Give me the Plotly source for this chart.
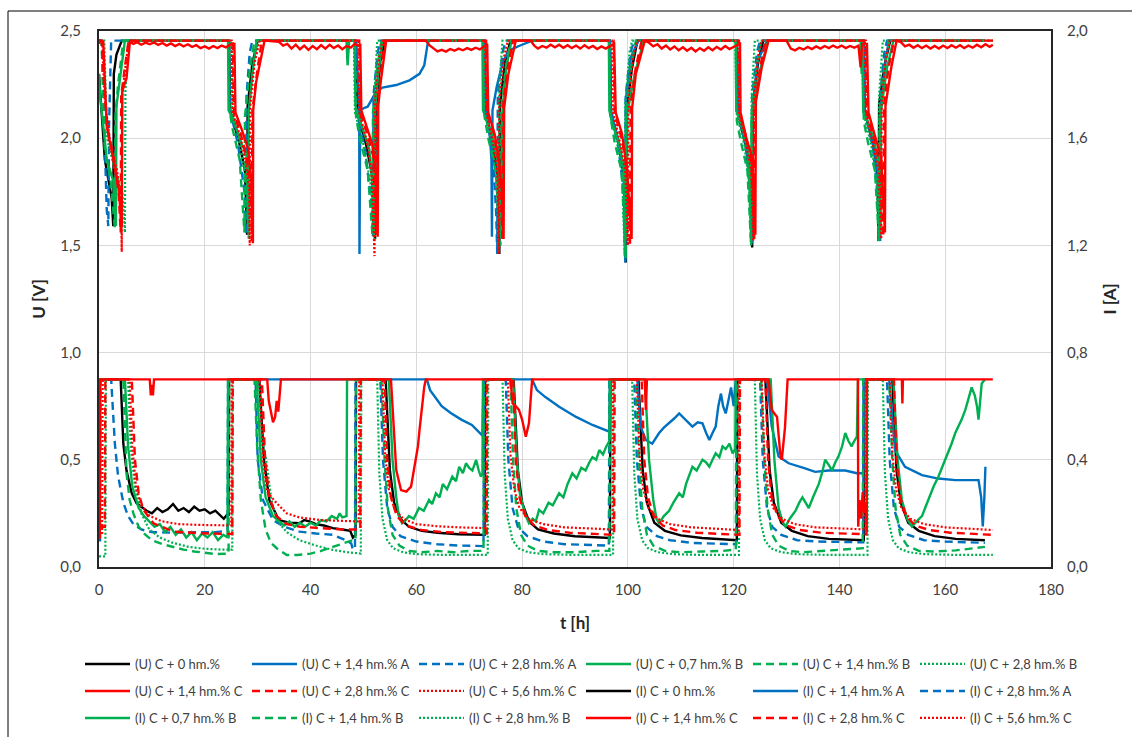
import plotly.graph_objects as go

# ---------------- data: (t [h], value) pairs ----------------
# Voltage series (left axis, V)
U_C0 = [(0.0,2.30),(1.1,1.90),(2.4,1.72),(2.7,1.59),(2.8,2.30),(3.3,2.39),(4.3,2.455),(24.6,2.455),
        (24.8,2.13),(26.5,1.98),(27.6,1.85),(28.0,1.55),(28.1,2.15),(29.0,2.35),(30.0,2.455),(48.6,2.455),
        (48.8,2.12),(50.5,1.97),(51.7,1.82),(52.2,1.53),(52.3,2.12),(53.2,2.36),(54.0,2.455),(72.9,2.455),
        (73.1,2.12),(74.5,1.98),(75.4,1.80),(75.7,1.46),(75.8,2.15),(76.8,2.36),(77.8,2.455),(96.6,2.455),
        (96.8,2.12),(98.3,1.97),(99.3,1.80),(99.6,1.42),(99.7,2.12),(100.8,2.33),(101.8,2.455),(120.6,2.455),
        (120.8,2.12),(122.3,1.96),(123.2,1.80),(123.5,1.49),(123.6,2.15),(124.6,2.35),(125.6,2.455),(144.6,2.455),
        (144.8,2.12),(146.4,1.97),(147.2,1.82),(147.4,1.52),(147.5,2.16),(148.6,2.35),(149.6,2.455),(167.5,2.455)]
U_C14A = [(48.6,2.455),(48.9,2.30),(49.2,2.15),(49.25,1.46),(49.4,2.13),(50.2,2.142),(50.8,2.147),(51.8,2.19),
          (52.4,2.217),(53.6,2.236),(56.2,2.248),(58.7,2.27),(60.6,2.30),(61.5,2.34),(62.1,2.435),(62.4,2.455),(72.9,2.455),
          (73.2,2.13),(73.8,2.05),(74.2,1.90),(74.3,1.54),(74.4,2.13),(75.2,2.24),(76.4,2.36),(77.6,2.41),(79.4,2.43),(81.9,2.455),(96.6,2.455),
          (96.8,2.13),(98.3,1.98),(99.2,1.85),(99.5,1.42),(99.6,2.18),(100.6,2.38),(102.0,2.455),(120.6,2.455),
          (120.8,2.13),(122.2,1.98),(123.2,1.82),(123.5,1.51),(123.6,2.14),(124.5,2.36),(126.3,2.455),(144.6,2.455),
          (144.8,2.13),(146.3,1.97),(147.3,1.83),(147.7,1.52),(147.8,2.13),(148.8,2.38),(149.4,2.455),(167.5,2.455)]
U_C28A = [(0.0,2.455),(0.5,2.455),(1.1,1.98),(1.45,1.67),(1.76,1.59),(1.9,2.06),(2.3,2.455),(24.6,2.455),
          (24.8,2.13),(26.3,1.97),(27.5,1.75),(27.8,1.55),(27.9,2.20),(28.5,2.40),(29.0,2.455),(48.5,2.455),
          (48.7,2.12),(50.3,1.95),(51.5,1.70),(51.8,1.54),(51.9,2.20),(52.7,2.40),(53.2,2.455),(72.8,2.455),
          (73.0,2.12),(74.4,1.95),(75.1,1.65),(75.3,1.46),(75.4,2.20),(76.3,2.40),(76.9,2.455),(96.5,2.455),
          (96.7,2.12),(98.2,1.96),(99.2,1.75),(99.5,1.43),(99.6,2.20),(100.5,2.40),(101.2,2.455),(120.6,2.455),
          (120.8,2.12),(122.3,1.96),(123.1,1.75),(123.4,1.52),(123.5,2.20),(124.4,2.40),(125.0,2.455),(144.6,2.455),
          (144.8,2.12),(146.3,1.96),(147.2,1.75),(147.6,1.53),(147.7,2.20),(148.5,2.40),(149.0,2.455),(167.5,2.455)]
U_C07B = [(0.0,2.30),(0.2,2.20),(0.8,2.06),(1.45,1.90),(2.7,1.80),(3.2,1.59),(3.3,2.15),(3.65,2.22),(4.4,2.35),(4.9,2.455),(24.4,2.455),
          (24.5,2.13),(25.5,2.08),(27.0,1.97),(27.9,1.93),(28.2,1.56),(28.3,2.12),(29.0,2.30),(29.8,2.455),
          (46.8,2.455),(47.0,2.34),(47.3,2.455),(48.3,2.455),
          (48.5,2.15),(49.5,2.07),(51.1,1.95),(51.7,1.78),(52.0,1.54),(52.1,2.10),(52.8,2.30),(53.6,2.455),(72.5,2.455),
          (72.6,2.13),(73.1,2.10),(74.3,2.02),(75.5,1.87),(76.1,1.53),(76.2,2.10),(77.0,2.33),(78.0,2.455),(96.4,2.455),
          (96.5,2.13),(97.0,2.07),(98.2,1.99),(99.2,1.87),(99.8,1.54),(99.9,2.12),(101.3,2.30),(103.0,2.455),(120.4,2.455),
          (120.5,2.13),(121.7,2.05),(122.8,1.93),(123.3,1.53),(123.4,2.10),(124.8,2.30),(126.5,2.455),
          (144.0,2.455),(144.2,2.30),(144.3,2.455),
          (144.5,2.13),(145.3,2.08),(146.6,1.99),(147.4,1.87),(147.7,1.55),(147.8,2.12),(149.0,2.33),(150.2,2.455),(167.5,2.455)]
U_C14B = [(0.0,2.455),(0.5,2.455),(1.1,1.95),(2.2,1.80),(3.0,1.58),(3.1,2.10),(3.6,2.25),(4.6,2.455),(24.5,2.455),
          (24.7,2.13),(25.2,2.05),(26.6,1.90),(27.5,1.56),(27.6,2.10),(28.5,2.32),(29.4,2.455),(48.4,2.455),
          (48.6,2.10),(49.3,2.00),(50.8,1.85),(51.7,1.55),(51.8,2.12),(52.6,2.33),(53.4,2.455),(72.7,2.455),
          (72.9,2.10),(73.6,2.00),(75.0,1.85),(75.9,1.50),(76.0,2.12),(76.9,2.33),(77.8,2.455),(96.5,2.455),
          (96.7,2.10),(97.5,1.98),(98.8,1.85),(99.6,1.44),(99.7,2.12),(100.6,2.33),(101.5,2.455),(120.4,2.455),
          (120.6,2.08),(121.4,1.98),(122.6,1.85),(123.3,1.50),(123.4,2.12),(124.3,2.33),(125.2,2.455),(144.4,2.455),
          (144.6,2.08),(145.4,1.98),(146.7,1.85),(147.5,1.52),(147.6,2.12),(148.5,2.33),(149.4,2.455),(167.5,2.455)]
U_C28B = [(0.0,2.455),(1.0,2.455),(1.5,2.00),(3.0,1.85),(4.4,1.75),(4.9,1.56),(5.0,2.22),(5.5,2.455),(25.0,2.455),
          (25.2,2.13),(26.6,1.97),(27.8,1.80),(28.3,1.53),(28.4,2.15),(29.3,2.35),(30.2,2.455),(48.2,2.455),
          (48.4,2.12),(50.0,1.97),(51.4,1.78),(52.1,1.52),(52.2,2.25),(52.6,2.455),(72.6,2.455),
          (72.8,2.12),(74.3,1.98),(75.2,1.80),(75.6,1.47),(75.7,2.25),(76.3,2.455),(96.4,2.455),
          (96.6,2.12),(97.8,2.00),(98.9,1.85),(99.4,1.45),(99.5,2.15),(100.3,2.40),(100.8,2.455),(120.3,2.455),
          (120.5,2.12),(122.0,1.97),(122.9,1.80),(123.3,1.50),(123.4,2.20),(124.0,2.455),(144.3,2.455),
          (144.5,2.12),(146.0,1.97),(147.0,1.80),(147.4,1.52),(147.5,2.20),(148.2,2.455),(169.0,2.455)]
U_C14C = [(0.0,2.44),(0.2,2.455),(0.8,2.45),(1.1,2.30),(1.45,2.06),(2.7,1.90),(3.65,1.78),(4.3,1.59),(4.4,2.22),(5.2,2.28),(5.85,2.45),
          (6.5,2.44),(7.2,2.448),(8.0,2.436),(8.8,2.446),(9.6,2.438),(10.4,2.447),(11.2,2.435),(12.0,2.444),(12.8,2.432),
          (13.6,2.442),(14.4,2.430),(15.2,2.440),(16.0,2.428),(16.8,2.438),(17.6,2.426),(18.4,2.434),(19.2,2.420),(20.0,2.428),
          (20.8,2.418),(21.6,2.430),(22.4,2.420),(23.2,2.432),(24.0,2.424),(24.8,2.436),(25.6,2.44),
          (25.8,2.12),(27.0,2.04),(28.2,1.95),(28.8,1.80),(29.1,1.51),(29.15,2.13),(29.7,2.26),(31.3,2.455),
          (33.0,2.452),(34.0,2.450),(34.8,2.432),(35.6,2.440),(36.4,2.418),(37.2,2.436),(38.0,2.415),(38.8,2.432),(39.6,2.412),
          (40.4,2.430),(41.2,2.415),(42.0,2.434),(42.8,2.418),(43.6,2.436),(44.4,2.420),(45.2,2.432),(46.0,2.415),(46.8,2.430),
          (47.6,2.422),(48.4,2.440),(49.0,2.430),(49.4,2.44),
          (49.6,2.13),(50.5,2.06),(51.7,1.97),(52.4,1.84),(52.7,1.54),(52.8,2.15),(53.2,2.25),(54.3,2.455),(61.8,2.455),
          (62.4,2.435),(63.2,2.420),(64.0,2.405),(64.8,2.412),(65.6,2.404),(66.4,2.416),(67.2,2.408),(68.0,2.418),(68.8,2.410),
          (69.6,2.420),(70.4,2.412),(71.2,2.422),(72.0,2.414),(72.8,2.428),(73.4,2.44),
          (73.6,2.12),(74.8,2.02),(75.6,1.90),(76.2,1.75),(76.5,1.53),(76.6,2.14),(77.4,2.30),(78.8,2.455),(81.6,2.455),
          (82.3,2.432),(83.0,2.418),(83.8,2.430),(84.6,2.422),(85.4,2.436),(86.2,2.424),(87.0,2.436),(87.8,2.422),(88.6,2.434),
          (89.4,2.420),(90.2,2.432),(91.0,2.418),(91.8,2.434),(92.6,2.420),(93.4,2.430),(94.2,2.416),(95.0,2.428),(95.8,2.418),
          (96.6,2.430),(97.4,2.44),
          (97.7,2.12),(98.9,2.02),(99.8,1.86),(100.7,1.53),(100.8,2.14),(101.5,2.30),(103.2,2.455),
          (104.0,2.445),(104.8,2.428),(105.6,2.438),(106.4,2.418),(107.2,2.432),(108.0,2.414),(108.8,2.428),(109.6,2.410),
          (110.4,2.424),(111.2,2.408),(112.0,2.422),(112.8,2.405),(113.6,2.420),(114.4,2.408),(115.2,2.424),(116.0,2.410),
          (116.8,2.426),(117.6,2.414),(118.4,2.430),(119.2,2.416),(120.0,2.428),(120.8,2.436),(121.2,2.44),
          (121.3,2.12),(122.4,2.00),(123.5,1.91),(124.1,1.55),(124.2,2.17),(125.3,2.33),(126.6,2.455),(130.0,2.455),
          (130.8,2.418),(131.6,2.410),(132.4,2.422),(133.2,2.414),(134.0,2.426),(134.8,2.416),(135.6,2.428),(136.4,2.418),
          (137.2,2.430),(138.0,2.420),(138.8,2.432),(139.6,2.422),(140.4,2.432),(141.2,2.420),(142.0,2.430),(142.8,2.422),
          (143.6,2.432),(144.0,2.33),(144.3,2.44),(145.2,2.44),
          (145.5,2.12),(146.6,2.02),(147.9,1.91),(148.6,1.56),(148.7,2.15),(149.8,2.33),(150.8,2.455),
          (151.6,2.448),(152.4,2.428),(153.2,2.436),(154.0,2.422),(154.8,2.434),(155.6,2.420),(156.4,2.432),(157.2,2.418),
          (158.0,2.430),(158.8,2.418),(159.6,2.432),(160.4,2.420),(161.2,2.434),(162.0,2.422),(162.8,2.434),(163.6,2.420),
          (164.4,2.432),(165.2,2.422),(166.0,2.436),(166.8,2.424),(167.6,2.438),(168.4,2.426),(169.0,2.436)]
U_C28C = [(0.0,2.455),(0.5,2.455),(1.0,2.25),(1.6,2.05),(2.8,1.90),(3.7,1.75),(4.1,1.56),(4.2,2.20),(5.0,2.35),(5.6,2.455),(25.3,2.455),
          (25.5,2.12),(26.8,2.02),(28.0,1.90),(28.7,1.75),(28.9,1.52),(29.0,2.13),(30.0,2.33),(30.8,2.455),(49.2,2.455),
          (49.4,2.12),(50.6,2.03),(51.8,1.92),(52.5,1.55),(52.6,2.14),(53.4,2.33),(54.0,2.455),(73.2,2.455),
          (73.4,2.12),(74.7,2.02),(75.8,1.85),(76.3,1.52),(76.4,2.15),(77.3,2.33),(78.3,2.455),(97.3,2.455),
          (97.5,2.12),(98.8,2.00),(99.9,1.85),(100.4,1.50),(100.5,2.15),(101.5,2.33),(102.6,2.455),(121.0,2.455),
          (121.2,2.12),(122.4,2.00),(123.4,1.88),(123.9,1.53),(124.0,2.15),(125.0,2.33),(126.0,2.455),(145.0,2.455),
          (145.2,2.12),(146.5,2.00),(147.6,1.88),(148.3,1.54),(148.4,2.15),(149.3,2.33),(150.3,2.455),(169.0,2.455)]
U_C56C = [(0.0,2.455),(0.6,2.455),(1.0,2.20),(2.0,2.00),(3.4,1.85),(4.2,1.70),(4.3,1.47),(4.4,2.20),(5.2,2.38),(5.8,2.455),(25.1,2.455),
          (25.3,2.12),(26.8,2.00),(27.8,1.88),(28.4,1.75),(28.5,1.50),(28.6,2.15),(29.4,2.35),(30.4,2.455),(49.0,2.455),
          (49.2,2.12),(50.5,2.00),(51.5,1.85),(52.1,1.45),(52.2,2.18),(53.0,2.38),(53.6,2.455),(73.0,2.455),
          (73.2,2.12),(74.5,1.98),(75.3,1.85),(75.6,1.46),(75.7,2.18),(76.6,2.38),(77.3,2.455),(97.0,2.455),
          (97.2,2.12),(98.5,1.98),(99.5,1.85),(100.0,1.50),(100.1,2.18),(101.0,2.38),(101.7,2.455),(120.8,2.455),
          (121.0,2.12),(122.3,1.98),(123.3,1.85),(123.7,1.52),(123.8,2.18),(124.6,2.38),(125.3,2.455),(144.8,2.455),
          (145.0,2.12),(146.3,1.98),(147.4,1.85),(147.9,1.53),(148.0,2.18),(148.8,2.38),(149.5,2.455),(169.0,2.455)]

# Current series (right axis, A)
I_C0 = [(0.0,0.70),(4.1,0.70),(4.6,0.46),(5.2,0.36),(6.2,0.275),(7.1,0.238),(8.0,0.225),(9.0,0.21),(10.0,0.20),(11.0,0.22),
        (12.0,0.205),(13.0,0.215),(14.0,0.235),(15.0,0.21),(16.0,0.22),(17.0,0.205),(18.0,0.225),(19.0,0.21),(20.0,0.215),
        (21.0,0.20),(22.0,0.21),(23.0,0.19),(23.6,0.18),(24.2,0.195),(24.5,0.19),(24.6,0.70),
        (30.3,0.70),(31.2,0.40),(32.2,0.25),(34.0,0.175),(36.0,0.165),(37.9,0.163),(38.8,0.175),(39.8,0.17),(41.0,0.16),
        (42.5,0.155),(44.2,0.145),(46.0,0.14),(47.5,0.135),(48.0,0.11),(48.5,0.12),(48.6,0.70),
        (54.2,0.70),(55.0,0.36),(55.8,0.24),(57.0,0.18),(58.6,0.15),(61.0,0.135),(64.0,0.128),(68.0,0.122),(72.9,0.12),(73.0,0.70),
        (78.4,0.70),(79.2,0.36),(80.0,0.24),(81.3,0.17),(83.0,0.14),(86.0,0.125),(90.0,0.115),(96.6,0.108),(96.7,0.70),
        (102.0,0.70),(102.8,0.36),(103.6,0.24),(105.0,0.165),(107.0,0.135),(110.0,0.118),(114.0,0.108),(120.6,0.10),(120.7,0.70),
        (126.0,0.70),(126.8,0.36),(127.6,0.24),(129.0,0.165),(131.0,0.135),(134.0,0.115),(138.0,0.105),(144.6,0.10),(144.7,0.70),
        (150.0,0.70),(150.8,0.36),(151.6,0.24),(153.0,0.165),(155.0,0.135),(158.0,0.115),(162.0,0.105),(167.5,0.10)]
I_C14A = [(29.5,0.70),(62.0,0.70),(62.6,0.66),(63.5,0.634),(64.8,0.60),(66.5,0.575),(68.5,0.55),(70.5,0.53),(72.5,0.49),(72.7,0.70),
          (81.9,0.70),(82.8,0.66),(84.4,0.634),(87.0,0.598),(90.2,0.56),(93.3,0.53),(95.9,0.51),(96.5,0.505),(96.6,0.70),
          (101.8,0.70),(102.4,0.524),(103.4,0.474),(104.6,0.46),(105.9,0.50),(106.8,0.52),(107.8,0.536),(108.8,0.555),(109.7,0.573),
          (110.4,0.56),(111.0,0.548),(112.2,0.524),(113.2,0.54),(114.1,0.536),(114.8,0.50),(115.4,0.474),(116.0,0.50),(116.6,0.524),
          (117.1,0.60),(117.6,0.647),(118.0,0.60),(118.5,0.573),(119.0,0.62),(119.5,0.67),(120.0,0.60),(120.4,0.70),
          (126.3,0.70),(127.2,0.524),(128.5,0.412),(130.4,0.387),(133.5,0.368),(135.4,0.355),(137.9,0.36),(141.1,0.36),(143.3,0.35),
          (144.5,0.35),(144.6,0.70),
          (149.4,0.70),(150.5,0.436),(152.4,0.374),(155.6,0.343),(158.7,0.33),(161.9,0.324),(166.3,0.324),(166.8,0.26),(167.1,0.151),
          (167.4,0.26),(167.6,0.374)]
I_C28A = [(0.0,0.10),(0.2,0.10),(0.3,0.70),(2.3,0.70),(3.0,0.46),(3.6,0.34),(4.6,0.24),(5.5,0.19),(6.5,0.16),(8.0,0.14),(10.0,0.13),
          (14.0,0.128),(18.0,0.13),(22.0,0.13),(24.3,0.135),(24.4,0.70),
          (29.6,0.70),(30.0,0.40),(31.0,0.25),(32.9,0.175),(35.0,0.15),(37.9,0.132),(41.0,0.125),(44.2,0.12),(46.7,0.10),(47.7,0.088),
          (48.0,0.065),(48.4,0.07),(48.5,0.70),
          (53.2,0.70),(53.7,0.40),(54.5,0.22),(55.5,0.15),(57.0,0.115),(60.0,0.095),(64.0,0.085),(68.0,0.08),(72.7,0.078),(72.8,0.70),
          (76.9,0.70),(77.4,0.40),(78.2,0.22),(79.2,0.15),(81.0,0.115),(84.0,0.095),(88.0,0.085),(96.4,0.08),(96.5,0.70),
          (101.2,0.70),(101.7,0.40),(102.5,0.22),(103.5,0.15),(105.5,0.115),(108.0,0.10),(112.0,0.09),(120.5,0.085),(120.6,0.70),
          (125.0,0.70),(125.5,0.40),(126.3,0.22),(127.3,0.15),(129.0,0.12),(132.0,0.10),(136.0,0.095),(144.5,0.092),(144.6,0.70),
          (149.0,0.70),(149.5,0.40),(150.3,0.22),(151.3,0.15),(153.0,0.12),(156.0,0.10),(160.0,0.095),(167.5,0.09)]
I_C07B = [(0.0,0.14),(0.15,0.70),(4.9,0.70),(5.5,0.45),(6.3,0.30),(7.5,0.22),(8.5,0.19),(9.6,0.17),(10.5,0.15),(11.5,0.16),
          (12.5,0.13),(13.5,0.15),(14.5,0.12),(15.5,0.14),(16.5,0.11),(17.5,0.13),(18.5,0.10),(19.5,0.125),(20.5,0.11),(21.5,0.13),
          (22.5,0.10),(23.5,0.12),(24.3,0.11),(24.4,0.70),
          (29.8,0.70),(30.6,0.40),(31.5,0.26),(32.9,0.19),(34.0,0.17),(35.0,0.155),(36.0,0.17),(37.0,0.15),(38.0,0.165),(39.0,0.15),
          (40.0,0.165),(41.0,0.155),(42.0,0.175),(43.0,0.17),(44.0,0.19),(45.0,0.18),(45.5,0.20),(46.0,0.185),(46.8,0.19),(46.9,0.70),
          (54.8,0.70),(55.5,0.40),(56.2,0.26),(56.7,0.19),(57.3,0.163),(58.0,0.175),(58.6,0.19),(59.5,0.18),(60.5,0.22),(61.4,0.21),
          (62.4,0.25),(63.0,0.235),(63.7,0.275),(64.4,0.26),(65.0,0.31),(65.8,0.29),(66.8,0.337),(67.5,0.32),(68.1,0.374),(68.8,0.35),
          (69.4,0.387),(70.0,0.37),(70.6,0.36),(71.3,0.40),(71.8,0.36),(72.2,0.337),(72.5,0.35),(72.6,0.70),
          (78.3,0.70),(79.0,0.40),(79.6,0.27),(80.7,0.19),(81.3,0.163),(82.0,0.18),(82.6,0.17),(83.2,0.213),(84.0,0.20),(85.0,0.24),
          (85.8,0.23),(87.0,0.275),(87.8,0.26),(88.6,0.31),(89.5,0.35),(90.3,0.33),(91.2,0.37),(92.0,0.36),(92.7,0.39),(93.3,0.41),
          (94.0,0.40),(94.6,0.436),(95.3,0.42),(95.9,0.449),(96.5,0.47),(96.6,0.70),
          (103.2,0.70),(104.0,0.40),(104.8,0.25),(105.4,0.18),(105.9,0.163),(106.8,0.19),(107.8,0.21),(108.6,0.24),(109.7,0.275),
          (110.4,0.26),(111.0,0.31),(111.6,0.34),(112.2,0.374),(113.0,0.36),(114.1,0.40),(114.8,0.39),(115.4,0.374),(116.0,0.40),
          (116.6,0.424),(117.3,0.41),(117.9,0.45),(118.5,0.44),(119.2,0.46),(119.8,0.424),(120.3,0.44),(120.4,0.70),
          (127.0,0.70),(127.7,0.40),(128.5,0.22),(129.2,0.17),(129.8,0.151),(130.6,0.18),(131.7,0.21),(132.4,0.24),(133.0,0.26),
          (133.6,0.24),(134.2,0.22),(135.0,0.26),(136.1,0.31),(136.7,0.35),(137.3,0.40),(138.0,0.38),(138.6,0.36),(139.2,0.39),
          (139.8,0.412),(140.5,0.45),(141.1,0.50),(141.7,0.47),(142.3,0.45),(142.8,0.47),(143.3,0.487),(143.5,0.70),
          (150.2,0.70),(151.0,0.40),(151.8,0.25),(152.8,0.18),(153.7,0.151),(154.6,0.17),(155.6,0.19),(156.2,0.22),(156.8,0.25),
          (157.8,0.30),(158.7,0.337),(159.4,0.37),(160.0,0.40),(160.6,0.43),(161.2,0.46),(161.9,0.50),(162.5,0.524),(163.1,0.55),
          (163.8,0.586),(164.4,0.63),(165.0,0.67),(165.6,0.64),(166.0,0.60),(166.3,0.55),(166.6,0.62),(166.9,0.685),(167.5,0.70)]
I_C14B = [(0.0,0.70),(4.6,0.70),(5.2,0.35),(5.8,0.25),(6.5,0.20),(7.5,0.15),(8.5,0.125),(10.0,0.10),(12.0,0.085),(14.0,0.075),
          (16.0,0.065),(18.0,0.058),(20.0,0.052),(22.0,0.048),(24.5,0.05),(24.6,0.70),
          (29.4,0.70),(29.9,0.45),(30.6,0.25),(31.5,0.14),(32.5,0.09),(33.6,0.07),(35.5,0.045),(37.5,0.045),(40.0,0.05),(42.0,0.06),
          (44.2,0.075),(46.7,0.09),(48.0,0.10),(48.5,0.10),(48.6,0.70),
          (53.4,0.70),(54.0,0.40),(54.6,0.22),(55.5,0.12),(56.8,0.08),(58.6,0.06),(61.0,0.055),(64.0,0.06),(67.0,0.055),(70.0,0.06),
          (72.7,0.06),(72.8,0.70),
          (77.8,0.70),(78.3,0.40),(78.9,0.22),(79.8,0.12),(81.0,0.08),(83.0,0.06),(86.0,0.055),(90.0,0.055),(94.0,0.06),(96.5,0.06),(96.6,0.70),
          (101.5,0.70),(102.1,0.40),(102.7,0.22),(103.6,0.12),(104.8,0.08),(107.0,0.06),(110.0,0.055),(114.0,0.058),(118.0,0.06),
          (120.4,0.065),(120.5,0.70),
          (125.2,0.70),(125.8,0.40),(126.4,0.22),(127.3,0.12),(128.5,0.08),(130.5,0.06),(133.0,0.055),(137.0,0.06),(141.0,0.065),
          (144.4,0.07),(144.5,0.70),
          (149.4,0.70),(150.0,0.40),(150.6,0.22),(151.5,0.12),(152.8,0.08),(155.0,0.06),(158.0,0.058),(162.0,0.062),(165.0,0.068),(167.5,0.075)]
I_C28B = [(0.0,0.04),(1.2,0.04),(1.3,0.70),(5.5,0.70),(6.0,0.45),(6.8,0.30),(8.0,0.20),(9.5,0.14),(11.5,0.11),(14.0,0.09),
          (17.0,0.075),(20.0,0.068),(23.0,0.065),(25.2,0.065),(25.3,0.70),
          (30.2,0.70),(30.8,0.48),(31.6,0.40),(32.6,0.25),(33.6,0.175),(35.5,0.13),(37.9,0.10),(41.0,0.08),(44.2,0.064),(47.0,0.055),
          (49.5,0.05),(49.6,0.70),
          (52.6,0.70),(53.0,0.35),(53.6,0.18),(54.5,0.10),(55.6,0.07),(57.5,0.055),(60.0,0.048),(65.0,0.045),(70.0,0.045),(73.5,0.045),(73.6,0.70),
          (76.3,0.70),(76.7,0.35),(77.3,0.18),(78.2,0.10),(79.3,0.07),(81.2,0.055),(84.0,0.048),(90.0,0.045),(97.2,0.045),(97.3,0.70),
          (100.8,0.70),(101.2,0.35),(101.8,0.18),(102.7,0.10),(103.8,0.07),(105.7,0.055),(108.5,0.048),(114.0,0.045),(121.0,0.045),(121.1,0.70),
          (124.0,0.70),(124.4,0.35),(125.0,0.18),(125.9,0.10),(127.0,0.07),(129.0,0.055),(132.0,0.048),(138.0,0.045),(145.3,0.045),(145.4,0.70),
          (148.2,0.70),(148.6,0.35),(149.2,0.18),(150.1,0.10),(151.2,0.07),(153.2,0.055),(156.0,0.048),(162.0,0.045),(169.0,0.045)]
I_C14C = [(0.0,0.11),(0.15,0.11),(0.25,0.70),(9.6,0.70),(9.8,0.64),(10.0,0.68),(10.2,0.64),(10.4,0.70),
          (31.8,0.70),(32.1,0.62),(32.5,0.58),(32.9,0.54),(33.3,0.56),(33.6,0.62),(33.9,0.58),(34.2,0.66),(34.4,0.70),
          (55.2,0.70),(55.6,0.55),(56.2,0.362),(57.1,0.287),(58.1,0.281),(59.0,0.30),(59.9,0.40),(60.3,0.45),(60.6,0.511),
          (61.1,0.60),(61.5,0.673),(61.8,0.70),
          (77.8,0.70),(78.2,0.61),(78.8,0.60),(79.4,0.586),(80.0,0.55),(80.7,0.486),(81.3,0.537),(81.6,0.62),(81.9,0.70),
          (103.2,0.70),(103.4,0.586),(103.6,0.70),
          (126.6,0.70),(127.2,0.586),(128.2,0.56),(128.8,0.424),(129.1,0.40),(129.7,0.52),(130.2,0.70),
          (143.5,0.70),(143.55,0.15),(143.8,0.25),(144.1,0.18),(144.4,0.28),(144.7,0.20),(145.0,0.24),(145.15,0.13),(145.2,0.70),
          (151.8,0.70),(151.9,0.61),(152.0,0.70),(169.0,0.70)]
I_C28C = [(0.0,0.15),(1.1,0.15),(1.2,0.70),(6.2,0.70),(6.8,0.40),(7.5,0.275),(8.4,0.213),(10.3,0.163),(14.1,0.132),(19.0,0.126),
          (25.2,0.123),(25.3,0.70),
          (30.8,0.70),(31.4,0.40),(32.2,0.26),(33.5,0.19),(35.5,0.16),(38.0,0.15),(42.0,0.145),(46.0,0.14),(49.4,0.14),(49.5,0.70),
          (54.0,0.70),(54.5,0.40),(55.2,0.26),(56.3,0.19),(58.0,0.155),(61.0,0.138),(65.0,0.13),(69.0,0.128),(73.3,0.125),(73.4,0.70),
          (78.3,0.70),(78.8,0.40),(79.5,0.26),(80.6,0.19),(82.3,0.155),(85.0,0.138),(89.0,0.128),(97.4,0.12),(97.5,0.70),
          (102.6,0.70),(103.1,0.40),(103.8,0.26),(104.9,0.19),(106.6,0.155),(109.0,0.138),(113.0,0.128),(121.1,0.12),(121.2,0.70),
          (126.0,0.70),(126.5,0.40),(127.2,0.26),(128.3,0.19),(130.0,0.155),(132.5,0.138),(136.5,0.128),(145.1,0.122),(145.2,0.70),
          (150.3,0.70),(150.8,0.40),(151.5,0.26),(152.6,0.19),(154.3,0.155),(157.0,0.138),(161.0,0.128),(169.0,0.12)]
I_C56C = [(0.0,0.12),(0.6,0.12),(0.7,0.70),(5.8,0.70),(6.3,0.45),(7.0,0.30),(8.0,0.23),(9.6,0.19),(12.0,0.17),(15.0,0.16),
          (19.0,0.157),(25.0,0.155),(25.1,0.70),
          (30.4,0.70),(31.0,0.40),(31.8,0.28),(33.6,0.238),(35.5,0.20),(37.9,0.185),(42.0,0.175),(46.0,0.172),(49.1,0.17),(49.2,0.70),
          (53.6,0.70),(54.1,0.42),(54.8,0.29),(55.8,0.22),(57.5,0.18),(60.0,0.16),(64.0,0.152),(68.0,0.148),(73.1,0.145),(73.2,0.70),
          (77.3,0.70),(77.8,0.42),(78.5,0.29),(79.5,0.22),(81.2,0.18),(84.0,0.16),(88.0,0.148),(97.1,0.14),(97.2,0.70),
          (101.7,0.70),(102.2,0.42),(102.9,0.29),(103.9,0.22),(105.6,0.18),(108.0,0.16),(112.0,0.148),(120.9,0.138),(121.0,0.70),
          (125.3,0.70),(125.8,0.42),(126.5,0.29),(127.5,0.22),(129.2,0.18),(131.5,0.16),(135.5,0.148),(144.9,0.14),(145.0,0.70),
          (149.5,0.70),(150.0,0.42),(150.7,0.29),(151.7,0.22),(153.4,0.18),(156.0,0.16),(160.0,0.148),(169.0,0.138)]

NAMES_U = ["(U) C + 0 hm.%", "(U) C + 1,4 hm.% A", "(U) C + 2,8 hm.% A", "(U) C + 0,7 hm.% B",
           "(U) C + 1,4 hm.% B", "(U) C + 2,8 hm.% B", "(U) C + 1,4 hm.% C", "(U) C + 2,8 hm.% C", "(U) C + 5,6 hm.% C"]
NAMES_I = ["(I) C + 0 hm.%", "(I) C + 1,4 hm.% A", "(I) C + 2,8 hm.% A", "(I) C + 0,7 hm.% B",
           "(I) C + 1,4 hm.% B", "(I) C + 2,8 hm.% B", "(I) C + 1,4 hm.% C", "(I) C + 2,8 hm.% C", "(I) C + 5,6 hm.% C"]
X_TICKS = [0, 20, 40, 60, 80, 100, 120, 140, 160, 180]
U_TICKS = [0.0, 0.5, 1.0, 1.5, 2.0, 2.5]
I_TICKS = [0.0, 0.4, 0.8, 1.2, 1.6, 2.0]

# ---------------- styling ----------------
BLACK, BLUE, GREEN, RED = "#000000", "#0070C0", "#00B050", "#FF0000"
DASH, DOT = "8px,5px", "2px,2px"
STYLES = [(BLACK, "solid"), (BLUE, "solid"), (BLUE, DASH), (GREEN, "solid"), (GREEN, DASH), (GREEN, DOT),
          (RED, "solid"), (RED, DASH), (RED, DOT)]
U_DATA = [U_C0, U_C14A, U_C28A, U_C07B, U_C14B, U_C28B, U_C14C, U_C28C, U_C56C]
I_DATA = [I_C0, I_C14A, I_C28A, I_C07B, I_C14B, I_C28B, I_C14C, I_C28C, I_C56C]

fig = go.Figure()
all_series = [(n, d, "y") for n, d in zip(NAMES_U, U_DATA)] + [(n, d, "y2") for n, d in zip(NAMES_I, I_DATA)]
styles = STYLES + STYLES
legends = ["legend"] * 6 + ["legend2"] * 6 + ["legend3"] * 6
for (name, data, ax), (col, dash), lg in zip(all_series, styles, legends):
    fig.add_trace(go.Scatter(
        x=[p[0] for p in data], y=[p[1] for p in data], name=name, mode="lines", yaxis=ax,
        line=dict(color=col, width=2.4 if dash != DOT else 2.2, dash=dash), legend=lg))

FONT = "Lato, 'Open Sans', sans-serif"
W, H = 1132, 737
L, R, T, B = 99, 81, 31, 170
pw, ph = W - L - R, H - T - B

def px2x(px):
    return (px - L) / pw

def py2y(py):
    return (H - B - py) / ph

leg_common = dict(orientation="h", xanchor="left", yanchor="middle", entrywidth=107, entrywidthmode="pixels",
                  font=dict(family=FONT, size=13, color="#404040"), bgcolor="rgba(0,0,0,0)", itemwidth=45,
                  traceorder="normal", tracegroupgap=0)
fig.update_layout(
    width=W, height=H, margin=dict(l=L, r=R, t=T, b=B, autoexpand=False),
    paper_bgcolor="white", plot_bgcolor="white", separators=", ",
    font=dict(family=FONT, size=15, color="#404040"),
    showlegend=True,
    legend=dict(x=px2x(80), y=py2y(664), **leg_common),
    legend2=dict(x=px2x(80), y=py2y(691), **leg_common),
    legend3=dict(x=px2x(80), y=py2y(718), **leg_common),
    xaxis=dict(range=[0, 180], tickvals=X_TICKS, showgrid=True, gridcolor="#D9D9D9", gridwidth=1,
               showline=True, linecolor="#262626", linewidth=2, mirror=True, zeroline=False,
               ticks="", tickfont=dict(size=15, color="#404040"), ticklabelstandoff=8,
               title=dict(text="<b>t [h]</b>", font=dict(size=17, color="#262626"), standoff=20)),
    yaxis=dict(range=[0, 2.5], tickvals=U_TICKS, tickformat=".1f", showgrid=True, gridcolor="#D9D9D9", gridwidth=1,
               showline=True, linecolor="#262626", linewidth=2, mirror=True, zeroline=False,
               ticks="", tickfont=dict(size=15, color="#404040"), ticklabelstandoff=13,
               title=dict(text="<b>U [V]</b>", font=dict(size=17, color="#262626"), standoff=10)),
    yaxis2=dict(range=[0, 2.0], tickvals=I_TICKS, tickformat=".1f", overlaying="y", side="right", showgrid=False,
                showline=False, zeroline=False, ticks="", tickfont=dict(size=15, color="#404040"), ticklabelstandoff=15,
                title=dict(text="<b>I [A]</b>", font=dict(size=17, color="#262626"), standoff=16)),
    shapes=[dict(type="rect", xref="paper", yref="paper", x0=px2x(8), x1=px2x(1140), y0=py2y(745), y1=py2y(11),
                 line=dict(color="#000000", width=1), fillcolor="rgba(0,0,0,0)", layer="below")],
)

fig.write_html("out.html", config={"displayModeBar": False},
               post_script="document.body.style.margin='0';")
